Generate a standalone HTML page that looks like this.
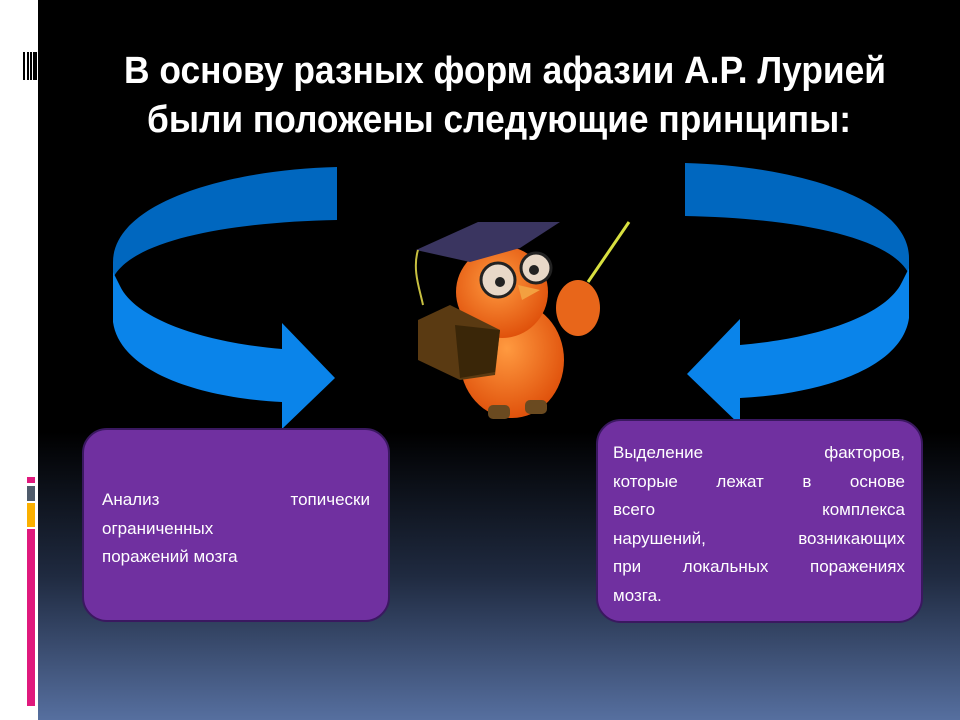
<!DOCTYPE html>
<html><head><meta charset="utf-8"><style>
html,body{margin:0;padding:0;background:#fff}
svg{display:block}
.w{position:absolute;font-family:'Liberation Sans',sans-serif;font-size:17px;color:#fff;line-height:28.5px}
.w div{text-align:justify;text-align-last:justify;white-space:nowrap;height:28.5px}
.w div.l{text-align-last:left}
</style></head><body>
<div style="position:relative;width:960px;height:720px;overflow:hidden">
<svg width="960" height="720" viewBox="0 0 960 720" xmlns="http://www.w3.org/2000/svg">
<defs>
<linearGradient id="bg" x1="0" y1="0" x2="0" y2="1">
<stop offset="0" stop-color="#000"/><stop offset="0.6" stop-color="#000"/>
<stop offset="0.8" stop-color="#1f2a40"/><stop offset="1" stop-color="#566f9f"/>
</linearGradient>
<radialGradient id="org" cx="0.45" cy="0.4" r="0.6"><stop offset="0" stop-color="#ff9a40"/><stop offset="1" stop-color="#e0520c"/></radialGradient>
<g id="arr">
<path d="M337,167 C220,170 113,205 113,262 L113,278 C132,240 230,222 337,220 Z" fill="#0067bf"/>
<path d="M113,272 L113,322 C120,372 200,398 282,402 L282,429 L335,378 L282,323 L282,349 C200,342 135,318 120,286 Z" fill="#0a84ea"/>
</g>
</defs>
<rect x="0" y="0" width="960" height="720" fill="#fff"/>
<rect x="38" y="0" width="922" height="720" fill="url(#bg)"/>
<g fill="#000"><rect x="23" y="52" width="2" height="28"/><rect x="27" y="52" width="2" height="28"/><rect x="30" y="52" width="2" height="28"/><rect x="33" y="52" width="4" height="28"/></g>
<rect x="27" y="477" width="8" height="6" fill="#e0197d"/>
<rect x="27" y="486" width="8" height="15" fill="#4f5b6b"/>
<rect x="27" y="503" width="8" height="24" fill="#fbb000"/>
<rect x="27" y="529" width="8" height="177" fill="#e0197d"/>

<g font-family="'Liberation Sans',sans-serif" font-weight="bold" font-size="38" fill="#000" opacity="0.7">
<text x="126" y="85" textLength="762" lengthAdjust="spacingAndGlyphs">В основу разных форм афазии А.Р. Лурией</text>
<text x="149" y="134" textLength="704" lengthAdjust="spacingAndGlyphs">были положены следующие принципы:</text>
</g>
<g font-family="'Liberation Sans',sans-serif" font-weight="bold" font-size="38" fill="#fff">
<text x="124" y="83" textLength="762" lengthAdjust="spacingAndGlyphs">В основу разных форм афазии А.Р. Лурией</text>
<text x="147" y="132" textLength="704" lengthAdjust="spacingAndGlyphs">были положены следующие принципы:</text>
</g>

<use href="#arr"/>
<use href="#arr" transform="translate(1022,-4) scale(-1,1)"/>

<line x1="588" y1="282" x2="629" y2="222" stroke="#d8e040" stroke-width="3"/>
<ellipse cx="512" cy="360" rx="52" ry="58" fill="url(#org)"/>
<ellipse cx="578" cy="308" rx="22" ry="28" fill="#e8661a"/>
<circle cx="502" cy="292" r="46" fill="url(#org)"/>
<polygon points="416,250 478,222 560,222 520,248 470,262" fill="#3a3560"/>
<path d="M418,250 C412,270 420,290 423,305" stroke="#c8c040" stroke-width="2" fill="none"/>
<circle cx="498" cy="280" r="17" fill="#e8d8c8" stroke="#222" stroke-width="3"/>
<circle cx="536" cy="268" r="15" fill="#e8d8c8" stroke="#222" stroke-width="3"/>
<circle cx="500" cy="282" r="5" fill="#222"/><circle cx="534" cy="270" r="5" fill="#222"/>
<polygon points="518,285 540,290 522,300" fill="#f3a040"/>
<polygon points="418,320 450,305 500,330 495,375 460,380 418,360" fill="#5a3a12"/>
<polygon points="455,325 500,330 495,372 460,378" fill="#3a2608"/>
<rect x="488" y="405" width="22" height="14" rx="5" fill="#6a4a20"/>
<rect x="525" y="400" width="22" height="14" rx="5" fill="#6a4a20"/>

<rect x="83" y="429" width="306" height="192" rx="24" fill="#7030a0" stroke="#3a1860" stroke-width="2"/>
<rect x="597" y="420" width="325" height="202" rx="24" fill="#7030a0" stroke="#3a1860" stroke-width="2"/>
</svg>
<div class="w" style="left:102px;top:486px;width:268px">
<div>Анализ топически</div><div class="l">ограниченных</div><div class="l">поражений мозга</div>
</div>
<div class="w" style="left:613px;top:439px;width:292px">
<div>Выделение факторов,</div><div>которые лежат в основе</div><div>всего комплекса</div><div>нарушений, возникающих</div><div>при локальных поражениях</div><div class="l">мозга.</div>
</div>
</div>
</body></html>
